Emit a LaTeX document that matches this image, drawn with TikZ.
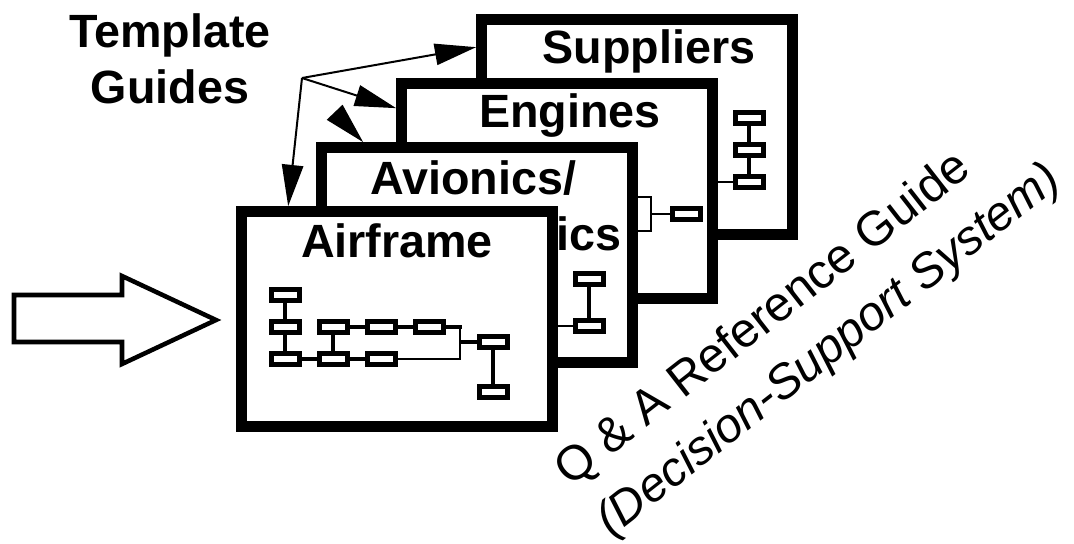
\documentclass[tikz,border=0pt]{standalone}
\usepackage{fontspec}
\setmainfont{Liberation Sans}
\usetikzlibrary{arrows.meta, calc}

\begin{document}
\begin{tikzpicture}[
        x=0.75pt, y=-0.75pt,
        font=\fontsize{35}{42}\selectfont,
        panel/.style={rectangle, draw=black, fill=white, line width=8pt,
                minimum width=233.25pt, minimum height=161.25pt, inner sep=0pt},
        panelLbl/.style={font=\fontsize{35}{42}\selectfont\bfseries,
                inner sep=0pt, anchor=base},
        mini/.style={rectangle, draw=black, fill=white, line width=3.75pt,
                minimum width=21pt, minimum height=8.25pt, inner sep=0pt},
        link/.style={line width=3pt},
        linkThin/.style={line width=1.8pt},
        guide/.style={-{Triangle[length=31pt, width=16pt]}, line width=1.5pt},
        qaText/.style={inner sep=0pt, anchor=base west, rotate=38,
                font=\fontsize{36.5}{42}\selectfont},
    ]
    \useasboundingbox (0,0) rectangle (1074,543);

    % suppliers
    \node[panel] (supp) at (637,127) {};
    \node[panelLbl] (suppLabel) at (649,63) {Suppliers};
    \foreach \name/\py in {spA/118, spB/150, spC/182}
        \node[mini] (\name) at (749,\py) {};
    \draw[link] (spA) -- (spB) -- (spC);

    % engines
    \node[panel] (eng) at (557,191) {};
    \node[panelLbl] (engLabel) at (570,127) {Engines};
    \node[mini] (enA) at (686,214) {};
    \draw[linkThin] (spC.west -| eng.east) -- (spC.west);

    % avionics
    \node[panel] (avio) at (477,255) {};
    \node[panelLbl, anchor=base west, align=left] (avioLabel) at (370,250)
        {Avionics/\\Electronics};
    \node[mini] (avA) at (589,279) {};
    \node[mini] (avB) at (589,326) {};
    \draw[link] (avA) -- (avB);
    \coordinate (brTop) at (651,197);
    \coordinate (brBot) at (651,231);
    \draw[linkThin] (avio.east |- brTop) -- (brTop) -- (brBot) -- (avio.east |- brBot);
    \draw[linkThin] (enA.west -| brTop) -- (enA.west);

    % airframe
    \node[panel] (air) at (397,319) {};
    \node[panelLbl] (airLabel) at (397,257) {Airframe};
    \foreach \name/\px/\py in {afA/285/295, afB/285/327, afC/285/359,
            afD/333/327, afE/333/359, afF/381/327, afG/381/359,
            afH/429/327, afI/493/342, afJ/493/392}
        \node[mini] (\name) at (\px,\py) {};
    \draw[link] (afA) -- (afB) -- (afC) -- (afE) -- (afG);
    \draw[link] (afD) -- (afE);
    \draw[link] (afD) -- (afF) -- (afH);
    \draw[link] (afI) -- (afJ);
    \coordinate (jTop) at (460,327);
    \coordinate (jBot) at (460,359);
    \draw[link] (afH.east) -- ([xshift=1.5pt]jTop);
    \draw[linkThin] (jTop) -- (jBot) -- (afG.east);
    \draw[link] (afI.west) -- (afI.west -| jTop);
    \draw[linkThin] (avB.west -| air.east) -- (avB.west);

    % input arrow
    \draw[line width=3.4pt, fill=white] (14,295) -- (122,295) -- (122,276)
        -- (216,320) -- (122,364) -- (122,342) -- (14,342) -- cycle;

    % template guides
    \node[panelLbl, align=center] (tplLabel) at (170,103) {Template\\Guides};
    \coordinate (hub) at (302,78);
    \draw[guide] (hub) -- ([shift={(0,33)}]supp.north west);
    \draw[guide] (hub) -- ([shift={(0,30)}]eng.north west);
    \draw[guide, shorten <=36pt] (hub) -- ([shift={(47,0)}]avio.north west);
    \draw[guide] (hub) -- ([shift={(52,0)}]air.north west);

    % reference guide
    \node[qaText] (qaLabel) at (570,488) {Q \& A Reference Guide};
    \node[qaText, font=\fontsize{36}{42}\selectfont\itshape] (dssLabel)
        at (611,538) {(Decision-Support System)};
\end{tikzpicture}
\end{document}
